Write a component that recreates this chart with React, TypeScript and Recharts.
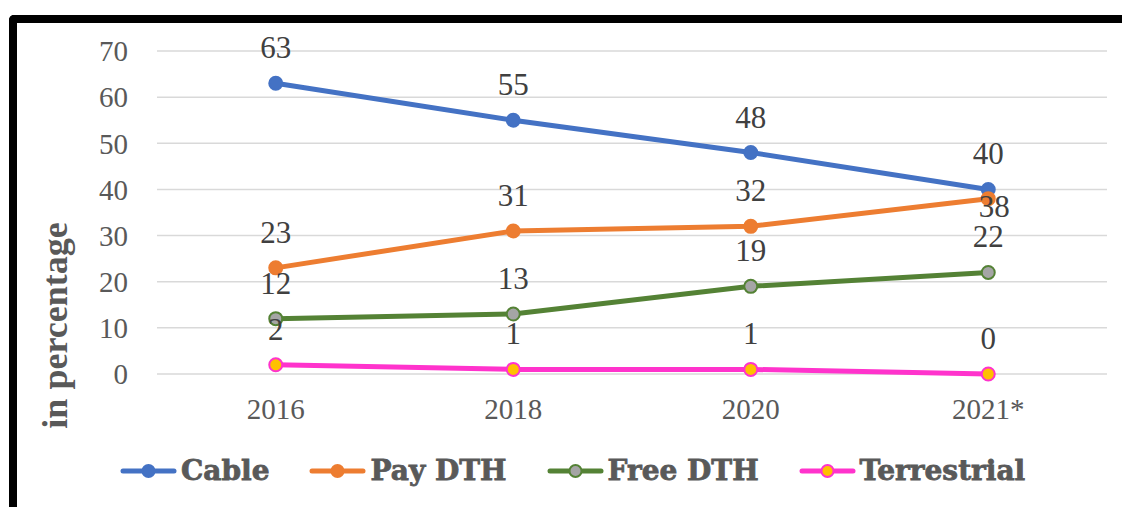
import { CartesianGrid, LabelList, Legend, Line, LineChart, XAxis, YAxis } from "recharts";

const years = ["2016", "2018", "2020", "2021*"];
const cable = [63, 55, 48, 40];
const payDth = [23, 31, 32, 38];
const freeDth = [12, 13, 19, 22];
const terrestrial = [2, 1, 1, 0];
const yTicks = [0, 10, 20, 30, 40, 50, 60, 70];

const data = years.map((year, i) => ({
  year,
  cable: cable[i],
  payDth: payDth[i],
  freeDth: freeDth[i],
  terrestrial: terrestrial[i],
}));

const series = [
  { key: "cable", name: "Cable", color: "#4472C4", fill: "#4472C4" },
  { key: "payDth", name: "Pay DTH", color: "#ED7D31", fill: "#ED7D31" },
  { key: "freeDth", name: "Free DTH", color: "#548235", fill: "#A5A5A5" },
  { key: "terrestrial", name: "Terrestrial", color: "#FF33CC", fill: "#FFC000" },
];

const SERIF = '"Liberation Serif", "Times New Roman", serif';

// labels sit above the point; the last Pay DTH label was pushed below it in the original
const makeLabel = (seriesKey: string) => (props: any) => {
  const { x, y, value, index } = props;
  const below = seriesKey === "payDth" && index === 3;
  return (
    <text
      x={below ? x + 6 : x}
      y={below ? y + 18 : y - 25}
      textAnchor="middle"
      fontFamily={SERIF}
      fontSize={31}
      fill="#404040"
    >
      {value}
    </text>
  );
};

const renderYLabel = (props: any) => {
  const { viewBox } = props;
  const cx = viewBox.x + 55;
  const cy = viewBox.y + viewBox.height / 2 + 113;
  return (
    <text
      x={cx}
      y={cy}
      transform={`rotate(-90, ${cx}, ${cy})`}
      textAnchor="middle"
      dominantBaseline="central"
      fontFamily={SERIF}
      fontWeight="bold"
      fontSize={36}
      fill="#595959"
    >
      in percentage
    </text>
  );
};

const renderLegend = () => (
  <div
    style={{
      display: "flex",
      alignItems: "center",
      gap: 40,
      fontFamily: '"DejaVu Serif", serif',
      fontWeight: "bold",
      fontSize: 28,
      lineHeight: "32px",
      color: "#595959",
      WebkitTextStroke: "0.8px #595959",
    }}
  >
    {series.map((s) => (
      <div key={s.key} style={{ display: "flex", alignItems: "center" }}>
        <svg width={57} height={16}>
          <line x1={3} y1={8} x2={54} y2={8} stroke={s.color} strokeWidth={5} strokeLinecap="round" />
          <circle cx={28.5} cy={8} r={6} fill={s.fill} stroke={s.color} strokeWidth={2} />
        </svg>
        <span style={{ marginLeft: 4 }}>{s.name}</span>
      </div>
    ))}
  </div>
);

export default function App() {
  return (
    <div style={{ position: "absolute", left: 0, top: 0, width: 1122, height: 507, overflow: "hidden", background: "#fff" }}>
      <div
        style={{
          position: "absolute",
          left: 9,
          top: 15,
          width: 1300,
          height: 700,
          borderLeft: "8px solid #000",
          borderTop: "8px solid #000",
          borderTopLeftRadius: 5,
        }}
      />
      <div style={{ position: "absolute", left: 0, top: 0 }}>
        <LineChart width={1122} height={507} data={data} margin={{ top: 51, right: 15, left: 0, bottom: 93 }}>
          <CartesianGrid vertical={false} stroke="#d9d9d9" strokeWidth={1.5} />
          <XAxis
            dataKey="year"
            scale="band"
            axisLine={false}
            tickLine={false}
            height={40}
            tickMargin={18}
            tick={{ fontFamily: SERIF, fontSize: 29, fill: "#595959" }}
          />
          <YAxis
            domain={[0, 70]}
            ticks={yTicks}
            width={157}
            axisLine={false}
            tickLine={false}
            tickMargin={23}
            tick={{ fontFamily: SERIF, fontSize: 29, fill: "#595959" }}
            label={renderYLabel}
          />
          <Legend
            layout="horizontal"
            verticalAlign="middle"
            align="center"
            content={renderLegend}
            wrapperStyle={{ left: 120, top: 455, width: "auto" }}
          />
          {series.map((s) => (
            <Line
              key={s.key}
              dataKey={s.key}
              name={s.name}
              stroke={s.color}
              strokeWidth={5}
              dot={{ r: 6.5, fill: s.fill, stroke: s.color, strokeWidth: 2 }}
              activeDot={false}
              isAnimationActive={false}
            >
              <LabelList dataKey={s.key} content={makeLabel(s.key)} />
            </Line>
          ))}
        </LineChart>
      </div>
    </div>
  );
}
